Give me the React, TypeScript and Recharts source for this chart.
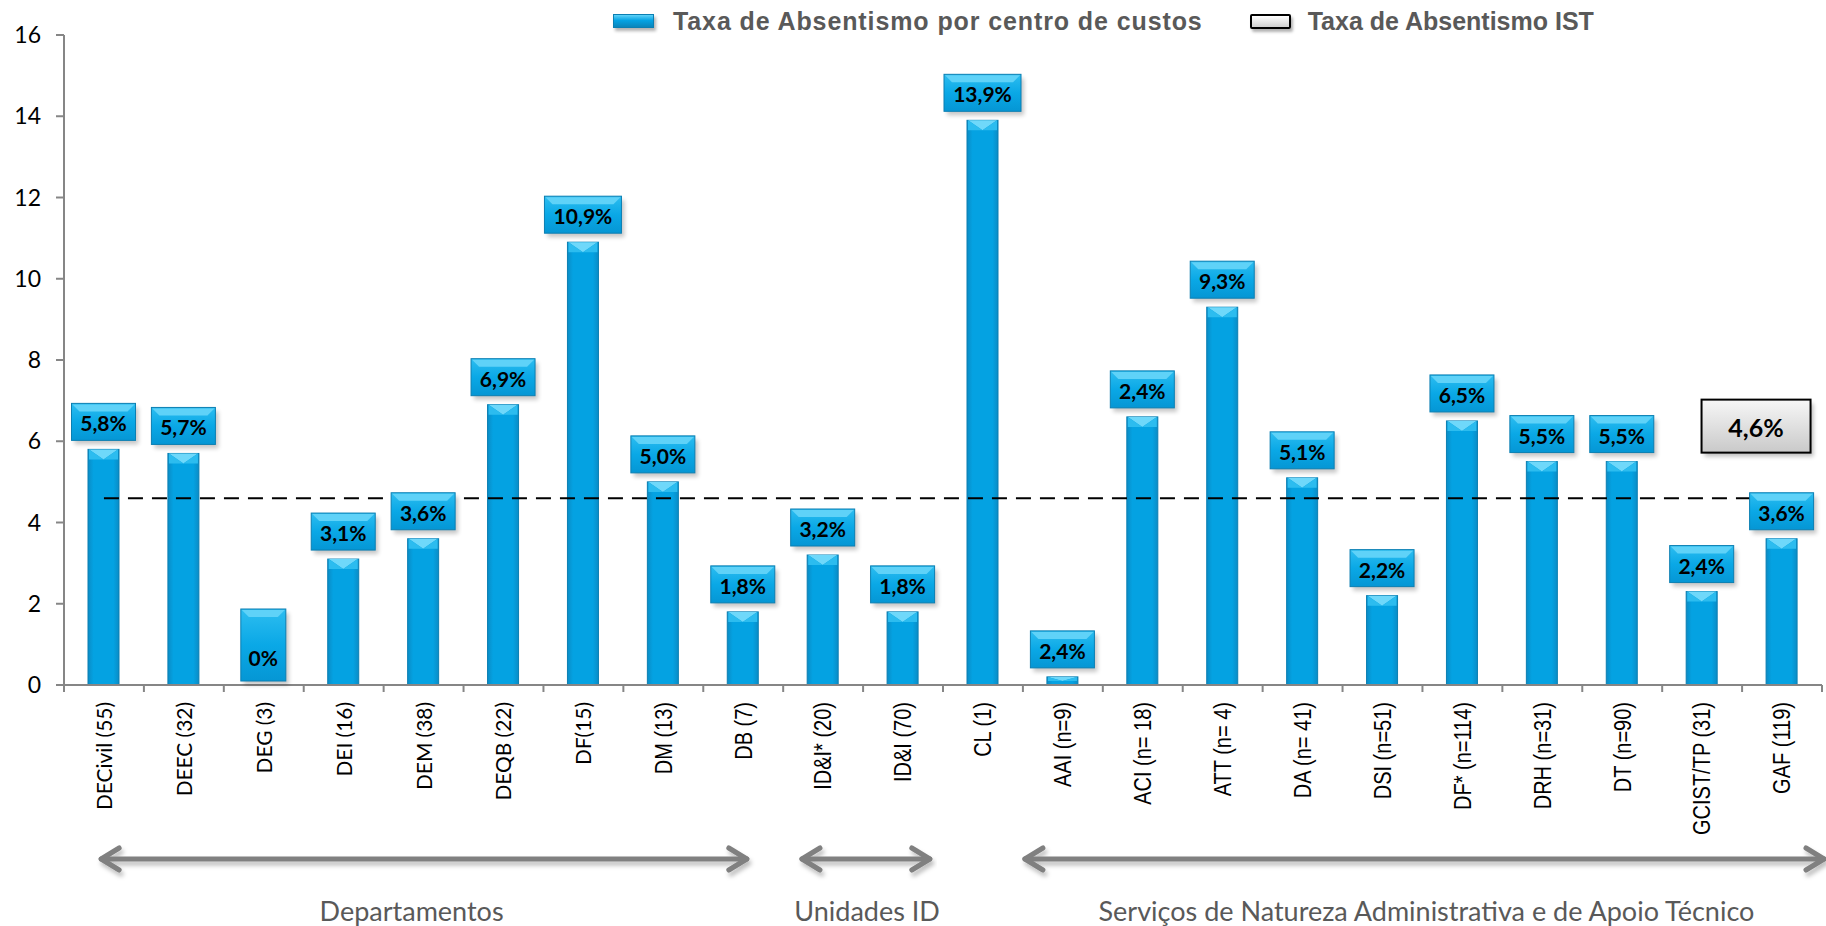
import React from "react";
import { Bar, ComposedChart, LabelList, Line, XAxis, YAxis } from "recharts";

const categories = [
  "DECivil (55)", "DEEC (32)", "DEG (3)", "DEI (16)", "DEM (38)", "DEQB (22)", "DF(15)", "DM (13)", "DB (7)",
  "ID&I* (20)", "ID&I (70)", "CL (1)",
  "AAI (n=9)", "ACI (n= 18)", "ATT (n= 4)", "DA (n= 41)", "DSI (n=51)", "DF* (n=114)", "DRH (n=31)", "DT (n=90)",
  "GCIST/TP (31)", "GAF (119)",
];
const rates = [5.8, 5.7, 0, 3.1, 3.6, 6.9, 10.9, 5.0, 1.8, 3.2, 1.8, 13.9, 0.2, 6.6, 9.3, 5.1, 2.2, 6.5, 5.5, 5.5, 2.3, 3.6];
const rateLabels = [
  "5,8%", "5,7%", "0%", "3,1%", "3,6%", "6,9%", "10,9%", "5,0%", "1,8%", "3,2%", "1,8%", "13,9%",
  "2,4%", "2,4%", "9,3%", "5,1%", "2,2%", "6,5%", "5,5%", "5,5%", "2,4%", "3,6%",
];
const istRate = 4.6;
const istLabel = "4,6%";
const yTicks = [0, 2, 4, 6, 8, 10, 12, 14, 16];

const seriesNames = ["Taxa de Absentismo por centro de custos", "Taxa de Absentismo IST"];
const groups = [
  { name: "Departamentos", from: -0.06, to: 8.07, labelAt: 3.85 },
  { name: "Unidades ID", from: 8.71, to: 10.36, labelAt: 9.55 },
  { name: "Serviços de Natureza Administrativa e de Apoio Técnico", from: 11.5, to: 21.55, labelAt: 16.55 },
];

const data = categories.map((name, i) => ({ name, rate: rates[i], ist: istRate }));

const W = 1826;
const H = 926;
const LEFT = 64;
const RIGHT = 4;
const TOP = 35;
const XAXIS_H = 241;
const BAND = (W - LEFT - RIGHT) / categories.length;
const bandX = (i: number) => LEFT + (i + 0.5) * BAND;

const AXIS = "#868686";
const LATO = "Lato, 'Open Sans', sans-serif";
const ARIAL = "'Liberation Sans', Arial, sans-serif";
// the first few category labels are set in a Calibri-like face, the rest in Arial
const HUMANIST_TICKS = 7;

function BeveledBar(props: any) {
  const { x, y, width, height } = props;
  if (!height || height <= 0) return null;
  const b = Math.min(10, height / 2);
  return (
    <g>
      <rect x={x} y={y} width={width} height={height} fill="url(#barBody)" stroke="#0b7fb2" strokeWidth={1} />
      <polygon points={`${x + 1},${y} ${x + width - 1},${y} ${x + width / 2},${y + b}`} fill="#6fd8fa" />
      <polygon points={`${x + 1},${y} ${x + width / 2},${y + b} ${x + 1},${y + b}`} fill="#2cbcef" />
      <polygon points={`${x + width - 1},${y} ${x + width / 2},${y + b} ${x + width - 1},${y + b}`} fill="#2cbcef" />
    </g>
  );
}

function BlueBox({ cx, top, w, h, text, textY }: any) {
  const x = cx - w / 2;
  return (
    <g>
      <rect x={x + 3} y={top + 4} width={w} height={h} fill="#000" opacity={0.22} filter="url(#soft)" />
      <rect x={x} y={top} width={w} height={h} fill="url(#boxBody)" stroke="#0b7fb2" strokeWidth={1} />
      <polygon points={`${x + 1},${top + 1} ${x + w - 1},${top + 1} ${x + w - 8},${top + 8} ${x + 8},${top + 8}`} fill="#5fd2f8" />
      <text
        x={cx}
        y={textY}
        textAnchor="middle"
        dominantBaseline="central"
        fontFamily={LATO}
        fontWeight={700}
        fontSize={21}
        fill="#000"
      >
        {text}
      </text>
    </g>
  );
}

function RateLabel(props: any) {
  const { x, y, width, index } = props;
  const text = rateLabels[index];
  const cx = x + width / 2;
  if (rates[index] === 0) {
    const h = 72;
    const top = y - 4 - h;
    return <BlueBox cx={cx} top={top} w={45} h={h} text={text} textY={top + h - 24} />;
  }
  const w = 12 + 13 * text.length;
  const h = 37;
  const top = y - 9 - h;
  return <BlueBox cx={cx} top={top} w={w} h={h} text={text} textY={top + h / 2 + 1} />;
}

function IstLabel(props: any) {
  const { x, y, index } = props;
  if (index !== categories.length - 1) return null;
  const w = 109;
  const h = 53;
  const bx = x - 26 - w / 2;
  const by = y - 72 - h / 2;
  return (
    <g>
      <rect x={bx + 3} y={by + 4} width={w} height={h} fill="#000" opacity={0.25} filter="url(#soft)" />
      <rect x={bx} y={by} width={w} height={h} fill="url(#grayBox)" stroke="#000" strokeWidth={2} />
      <text
        x={bx + w / 2}
        y={by + h / 2 + 1}
        textAnchor="middle"
        dominantBaseline="central"
        fontFamily={LATO}
        fontWeight={700}
        fontSize={25}
        fill="#000"
      >
        {istLabel}
      </text>
    </g>
  );
}

function CategoryTick(props: any) {
  const { x, y, payload, index } = props;
  const half = BAND / 2;
  const humanist = index < HUMANIST_TICKS;
  return (
    <g>
      <line x1={x - half} y1={y} x2={x - half} y2={y + 7} stroke={AXIS} strokeWidth={2} />
      {index === categories.length - 1 && (
        <line x1={x + half} y1={y} x2={x + half} y2={y + 7} stroke={AXIS} strokeWidth={2} />
      )}
      <text
        transform={`translate(${x},${y + 17}) rotate(-90) scale(${humanist ? 0.95 : 0.87},1)`}
        textAnchor="end"
        dy="0.36em"
        fontFamily={humanist ? LATO : ARIAL}
        fontSize={humanist ? 22 : 23}
        fill="#000"
      >
        {payload.value}
      </text>
    </g>
  );
}

function GroupArrows() {
  const y = 859;
  return (
    <svg width={W} height={H} style={{ position: "absolute", left: 0, top: 0, pointerEvents: "none" }}>
      <defs>
        <filter id="arrowShadow" x="-5%" y="-100%" width="110%" height="300%">
          <feDropShadow dx="2" dy="4" stdDeviation="2" floodColor="#000" floodOpacity="0.25" />
        </filter>
      </defs>
      {groups.map((g) => {
        const x0 = bandX(g.from);
        const x1 = bandX(g.to);
        return (
          <g key={g.name}>
            <g filter="url(#arrowShadow)" stroke="#808080" strokeWidth={5} fill="none" strokeLinecap="round" strokeLinejoin="round">
              <line x1={x0 + 2} y1={y} x2={x1 - 2} y2={y} />
              <polyline points={`${x0 + 20},${y - 11} ${x0 + 2},${y} ${x0 + 20},${y + 11}`} />
              <polyline points={`${x1 - 20},${y - 11} ${x1 - 2},${y} ${x1 - 20},${y + 11}`} />
            </g>
            <text x={bandX(g.labelAt)} y={921} textAnchor="middle" fontFamily={LATO} fontSize={27} fill="#595959">
              {g.name}
            </text>
          </g>
        );
      })}
    </svg>
  );
}

function ChartLegend() {
  const text = { fontFamily: ARIAL, fontWeight: 700, fontSize: 25, color: "#595959", whiteSpace: "nowrap" as const };
  return (
    <div style={{ position: "absolute", top: 6, left: 613, display: "flex", alignItems: "center", height: 30 }}>
      <div
        style={{
          width: 39,
          height: 12,
          background: "linear-gradient(#5fd2f8, #05a3e3 45%, #0a85bb)",
          border: "1px solid #0b7fb2",
          boxShadow: "2px 3px 3px rgba(0,0,0,0.3)",
        }}
      />
      <span style={{ ...text, marginLeft: 19, letterSpacing: 0.9 }}>{seriesNames[0]}</span>
      <div
        style={{
          width: 37,
          height: 11,
          marginLeft: 47,
          background: "linear-gradient(#ffffff, #d0d0d0)",
          border: "2px solid #000",
          borderRadius: 2,
          boxShadow: "2px 3px 3px rgba(0,0,0,0.3)",
        }}
      />
      <span style={{ ...text, marginLeft: 17 }}>{seriesNames[1]}</span>
    </div>
  );
}

export default function App() {
  return (
    <div style={{ position: "relative", width: W, height: H, background: "#fff" }}>
      <style>{`body{margin:0}`}</style>
      <ComposedChart width={W} height={H} data={data} margin={{ top: TOP, right: RIGHT, bottom: 0, left: 0 }}>
        <defs>
          <linearGradient id="barBody" x1="0" y1="0" x2="1" y2="0">
            <stop offset="0%" stopColor="#0a8cc6" />
            <stop offset="18%" stopColor="#04a2e2" />
            <stop offset="82%" stopColor="#04a2e2" />
            <stop offset="100%" stopColor="#0a8cc6" />
          </linearGradient>
          <linearGradient id="boxBody" x1="0" y1="0" x2="0" y2="1">
            <stop offset="0%" stopColor="#2dbdf0" />
            <stop offset="50%" stopColor="#0aa8e6" />
            <stop offset="100%" stopColor="#0596d4" />
          </linearGradient>
          <linearGradient id="grayBox" x1="0" y1="0" x2="0" y2="1">
            <stop offset="0%" stopColor="#f7f7f7" />
            <stop offset="100%" stopColor="#c9c9c9" />
          </linearGradient>
          <filter id="soft" x="-20%" y="-20%" width="140%" height="140%">
            <feGaussianBlur stdDeviation="2" />
          </filter>
        </defs>
        <XAxis
          dataKey="name"
          height={XAXIS_H}
          interval={0}
          tickLine={false}
          tickSize={0}
          tickMargin={0}
          axisLine={{ stroke: AXIS, strokeWidth: 2 }}
          tick={<CategoryTick />}
        />
        <YAxis
          width={LEFT}
          domain={[0, 16]}
          ticks={yTicks}
          interval={0}
          tickSize={8}
          tickMargin={15}
          axisLine={{ stroke: AXIS, strokeWidth: 2 }}
          tickLine={{ stroke: AXIS, strokeWidth: 2 }}
          tick={{ fontFamily: LATO, fontSize: 23, fill: "#000" }}
        />
        <Bar dataKey="rate" name={seriesNames[0]} barSize={31} shape={<BeveledBar />} isAnimationActive={false}>
          <LabelList dataKey="rate" content={<RateLabel />} />
        </Bar>
        <Line
          dataKey="ist"
          name={seriesNames[1]}
          stroke="#000"
          strokeWidth={2}
          strokeDasharray="15 9"
          dot={false}
          activeDot={false}
          label={<IstLabel />}
          isAnimationActive={false}
        />
      </ComposedChart>
      <ChartLegend />
      <GroupArrows />
    </div>
  );
}
